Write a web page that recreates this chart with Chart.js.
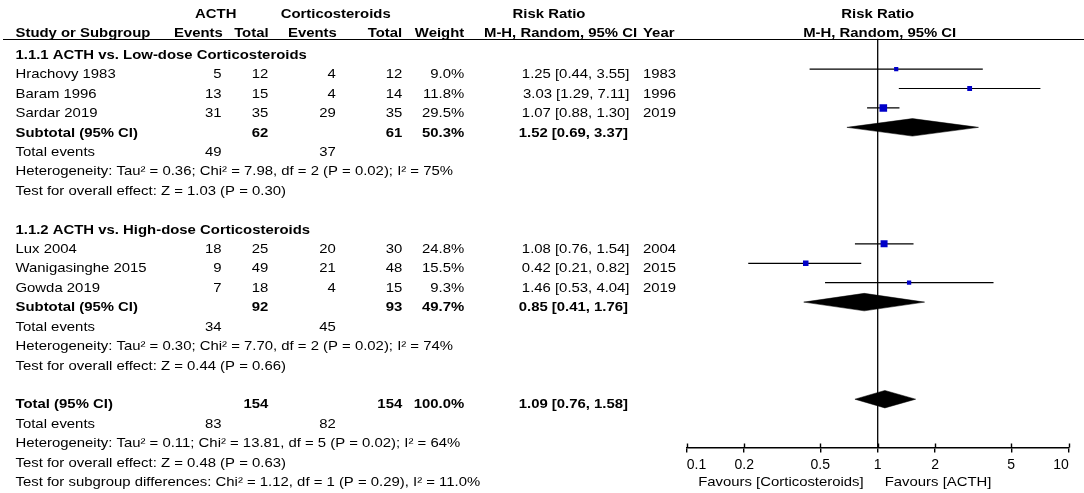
<!DOCTYPE html>
<html>
<head>
<meta charset="utf-8">
<title>ACTH vs. Corticosteroids - Risk Ratio</title>
<script src="https://cdn.jsdelivr.net/npm/chart.js@4.4.1/dist/chart.umd.min.js"></script>
<style>
    html, body { margin: 0; padding: 0; background: #fff; }
    #wrap { width: 1084px; height: 493px; }
</style>
</head>
<body>
<div id="wrap"><canvas id="forest" width="1084" height="493"></canvas></div>
<script>
// study level data
const studyNames = ['Hrachovy 1983', 'Baram 1996', 'Sardar 2019', 'Lux 2004', 'Wanigasinghe 2015', 'Gowda 2019'];
const acthEvents = [5, 13, 31, 18, 9, 7];
const acthTotal = [12, 15, 35, 25, 49, 18];
const cortEvents = [4, 4, 29, 20, 21, 4];
const cortTotal = [12, 14, 35, 30, 48, 15];
const weights = [9.0, 11.8, 29.5, 24.8, 15.5, 9.3];
const riskRatio = [1.25, 3.03, 1.07, 1.08, 0.42, 1.46];
const ciLow = [0.44, 1.29, 0.88, 0.76, 0.21, 0.53];
const ciHigh = [3.55, 7.11, 1.30, 1.54, 0.82, 4.04];
const years = [1983, 1996, 2019, 2004, 2015, 2019];
const studyRows = [3, 4, 5, 12, 13, 14];

// subtotals and overall total
const pooledLabels = ['Subtotal (95% CI)', 'Subtotal (95% CI)', 'Total (95% CI)'];
const pooledActhTotal = [62, 92, 154];
const pooledCortTotal = [61, 93, 154];
const pooledWeight = [50.3, 49.7, 100.0];
const pooledRR = [1.52, 0.85, 1.09];
const pooledLow = [0.69, 0.41, 0.76];
const pooledHigh = [3.37, 1.76, 1.58];
const pooledRows = [6, 15, 20];

const eventsActh = [49, 34, 83];
const eventsCort = [37, 45, 82];
const eventRows = [7, 16, 21];
const heterogeneity = [
    'Heterogeneity: Tau\u00b2 = 0.36; Chi\u00b2 = 7.98, df = 2 (P = 0.02); I\u00b2 = 75%',
    'Heterogeneity: Tau\u00b2 = 0.30; Chi\u00b2 = 7.70, df = 2 (P = 0.02); I\u00b2 = 74%',
    'Heterogeneity: Tau\u00b2 = 0.11; Chi\u00b2 = 13.81, df = 5 (P = 0.02); I\u00b2 = 64%'
];
const overallTests = [
    'Test for overall effect: Z = 1.03 (P = 0.30)',
    'Test for overall effect: Z = 0.44 (P = 0.66)',
    'Test for overall effect: Z = 0.48 (P = 0.63)'
];
const subgroupTest = 'Test for subgroup differences: Chi\u00b2 = 1.12, df = 1 (P = 0.29), I\u00b2 = 11.0%';
const groupTitles = ['1.1.1 ACTH vs. Low-dose Corticosteroids', '1.1.2 ACTH vs. High-dose Corticosteroids'];
const groupRows = [2, 11];

const tickValues = [0.1, 0.2, 0.5, 1, 2, 5, 10];
const favourLabels = ['Favours [Corticosteroids]', 'Favours [ACTH]'];

// layout (row units on the y axis)
const rowPx = 19.85;
const headerLine = (34 - 5.6) / rowPx;
const axisLine = (452 - 5.6) / rowPx;
const yMin = -5.6 / rowPx;
const yMax = (493 - 5.6) / rowPx;
const FONT = '"Liberation Sans", Arial, Helvetica, sans-serif';
const STRETCH = 1.12;
const BLUE = '#0000c8';

function fmt(v) { return v.toFixed(2); }
function ciText(rr, lo, hi) { return fmt(rr) + ' [' + fmt(lo) + ', ' + fmt(hi) + ']'; }

function drawText(ctx, str, x, y, align, bold) {
    ctx.save();
    ctx.font = (bold ? 'bold ' : '') + '13.3px ' + FONT;
    ctx.fillStyle = '#000';
    ctx.textAlign = 'left';
    ctx.textBaseline = 'alphabetic';
    const w = ctx.measureText(str).width * STRETCH;
    let left = x;
    if (align === 'right') left = x - w;
    if (align === 'center') left = x - w / 2;
    ctx.translate(left, y);
    ctx.scale(STRETCH, 1);
    ctx.fillText(str, 0, 0);
    ctx.restore();
}

// the table on the left, headers and footer labels
const tablePlugin = {
    id: 'forestTable',
    afterDraw(chart) {
        const ctx = chart.ctx;
        const ys = chart.scales.y;
        const xs = chart.scales.x;
        const base = line => ys.getPixelForValue(line) + 9.2;

        // header
        const h0 = ys.getPixelForValue(0) + 7;
        const h1 = ys.getPixelForValue(1) + 6.9;
        drawText(ctx, 'ACTH', 215.7, h0, 'center', true);
        drawText(ctx, 'Corticosteroids', 335.7, h0, 'center', true);
        drawText(ctx, 'Risk Ratio', 549, h0, 'center', true);
        drawText(ctx, 'Risk Ratio', xs.getPixelForValue(1), h0, 'center', true);
        drawText(ctx, 'Study or Subgroup', 15.5, h1, 'left', true);
        drawText(ctx, 'Events', 222.8, h1, 'right', true);
        drawText(ctx, 'Total', 268.6, h1, 'right', true);
        drawText(ctx, 'Events', 336.8, h1, 'right', true);
        drawText(ctx, 'Total', 402.2, h1, 'right', true);
        drawText(ctx, 'Weight', 464.2, h1, 'right', true);
        drawText(ctx, 'M-H, Random, 95% CI', 484, h1, 'left', true);
        drawText(ctx, 'Year', 643, h1, 'left', true);
        drawText(ctx, 'M-H, Random, 95% CI', xs.getPixelForValue(1) + 2, h1, 'center', true);

        ctx.save();
        ctx.strokeStyle = '#000';
        ctx.lineWidth = 1.2;
        const hy = Math.round(ys.getPixelForValue(headerLine)) + 0.5;
        ctx.beginPath();
        ctx.moveTo(3, hy);
        ctx.lineTo(1084, hy);
        ctx.stroke();
        // upper half of the axis ticks
        const ay = ys.getPixelForValue(axisLine);
        ctx.lineWidth = 1.4;
        ctx.beginPath();
        tickValues.forEach(v => {
            const tx = Math.round(xs.getPixelForValue(v)) + 0.5;
            ctx.moveTo(tx, ay - 4);
            ctx.lineTo(tx, ay);
        });
        ctx.stroke();
        ctx.restore();

        groupTitles.forEach((t, i) => drawText(ctx, t, 15.5, base(groupRows[i]), 'left', true));

        studyNames.forEach((name, i) => {
            const y = base(studyRows[i]);
            drawText(ctx, name, 15.5, y, 'left', false);
            drawText(ctx, String(acthEvents[i]), 221.5, y, 'right', false);
            drawText(ctx, String(acthTotal[i]), 268.3, y, 'right', false);
            drawText(ctx, String(cortEvents[i]), 335.7, y, 'right', false);
            drawText(ctx, String(cortTotal[i]), 402.2, y, 'right', false);
            drawText(ctx, weights[i].toFixed(1) + '%', 464.2, y, 'right', false);
            drawText(ctx, ciText(riskRatio[i], ciLow[i], ciHigh[i]), 629.5, y, 'right', false);
            drawText(ctx, String(years[i]), 643, y, 'left', false);
        });

        pooledLabels.forEach((label, i) => {
            const y = base(pooledRows[i]);
            drawText(ctx, label, 15.5, y, 'left', true);
            drawText(ctx, String(pooledActhTotal[i]), 268.3, y, 'right', true);
            drawText(ctx, String(pooledCortTotal[i]), 402.2, y, 'right', true);
            drawText(ctx, pooledWeight[i].toFixed(1) + '%', 464.2, y, 'right', true);
            drawText(ctx, ciText(pooledRR[i], pooledLow[i], pooledHigh[i]), 628, y, 'right', true);
        });

        eventRows.forEach((row, i) => {
            const y = base(row);
            drawText(ctx, 'Total events', 15.5, y, 'left', false);
            drawText(ctx, String(eventsActh[i]), 221.5, y, 'right', false);
            drawText(ctx, String(eventsCort[i]), 335.7, y, 'right', false);
            drawText(ctx, heterogeneity[i], 15.5, base(row + 1), 'left', false);
            drawText(ctx, overallTests[i], 15.5, base(row + 2), 'left', false);
        });
        drawText(ctx, subgroupTest, 15.5, base(24), 'left', false);

        // favours labels under the axis
        const fy = ay + 38.5;
        const cx = xs.getPixelForValue(1);
        drawText(ctx, favourLabels[0], cx - 14, fy, 'right', false);
        drawText(ctx, favourLabels[1], cx + 7, fy, 'left', false);
    }
};

const markerData = studyNames.map((n, i) => ({ x: riskRatio[i], y: studyRows[i] }));
const markerRadius = weights.map(w => 1.4 * Math.sqrt(w) / Math.SQRT2);

const datasets = [{
    label: 'Studies',
    data: markerData,
    pointStyle: 'rect',
    pointRadius: markerRadius,
    pointHoverRadius: markerRadius,
    pointBackgroundColor: BLUE,
    pointBorderWidth: 0,
    showLine: false
}];

// confidence intervals
studyNames.forEach((n, i) => {
    datasets.push({
        label: n + ' CI',
        data: [{ x: ciLow[i], y: studyRows[i] }, { x: ciHigh[i], y: studyRows[i] }],
        showLine: true,
        borderColor: '#000',
        borderWidth: 1.2,
        pointRadius: 0
    });
});

// pooled diamonds
pooledLabels.forEach((label, i) => {
    const r = pooledRows[i];
    const h = 0.45;
    datasets.push({
        label: label,
        data: [
            { x: pooledLow[i], y: r },
            { x: pooledRR[i], y: r - h },
            { x: pooledHigh[i], y: r },
            { x: pooledRR[i], y: r + h },
            { x: pooledLow[i], y: r }
        ],
        showLine: true,
        fill: 'shape',
        backgroundColor: '#000',
        borderColor: '#000',
        borderWidth: 0.5,
        pointRadius: 0,
        tension: 0
    });
});

// line of no effect
datasets.push({
    label: 'No effect',
    data: [{ x: 1, y: headerLine }, { x: 1, y: axisLine }],
    showLine: true,
    borderColor: '#000',
    borderWidth: 1.3,
    pointRadius: 0
});

new Chart(document.getElementById('forest').getContext('2d'), {
    type: 'scatter',
    data: { datasets: datasets },
    options: {
        responsive: false,
        devicePixelRatio: 1,
        animation: false,
        layout: { padding: { left: 686.7, right: 15.3, top: 0, bottom: 0 } },
        plugins: {
            legend: { display: false },
            tooltip: { enabled: false }
        },
        scales: {
            x: {
                type: 'logarithmic',
                min: 0.1,
                max: 10,
                position: { y: axisLine },
                afterBuildTicks: function (scale) {
                    scale.ticks = tickValues.map(v => ({ value: v }));
                },
                ticks: {
                    autoSkip: false,
                    maxRotation: 0,
                    align: 'inner',
                    color: '#000',
                    padding: 5,
                    font: { family: FONT, size: 14 },
                    callback: function (value) { return String(value); }
                },
                grid: { drawOnChartArea: false, drawTicks: true, tickLength: 4, color: '#000', lineWidth: 1.4 },
                border: { display: true, color: '#000', width: 1.5 }
            },
            y: {
                type: 'linear',
                reverse: true,
                min: yMin,
                max: yMax,
                display: false
            }
        }
    },
    plugins: [tablePlugin]
});
</script>
</body>
</html>
